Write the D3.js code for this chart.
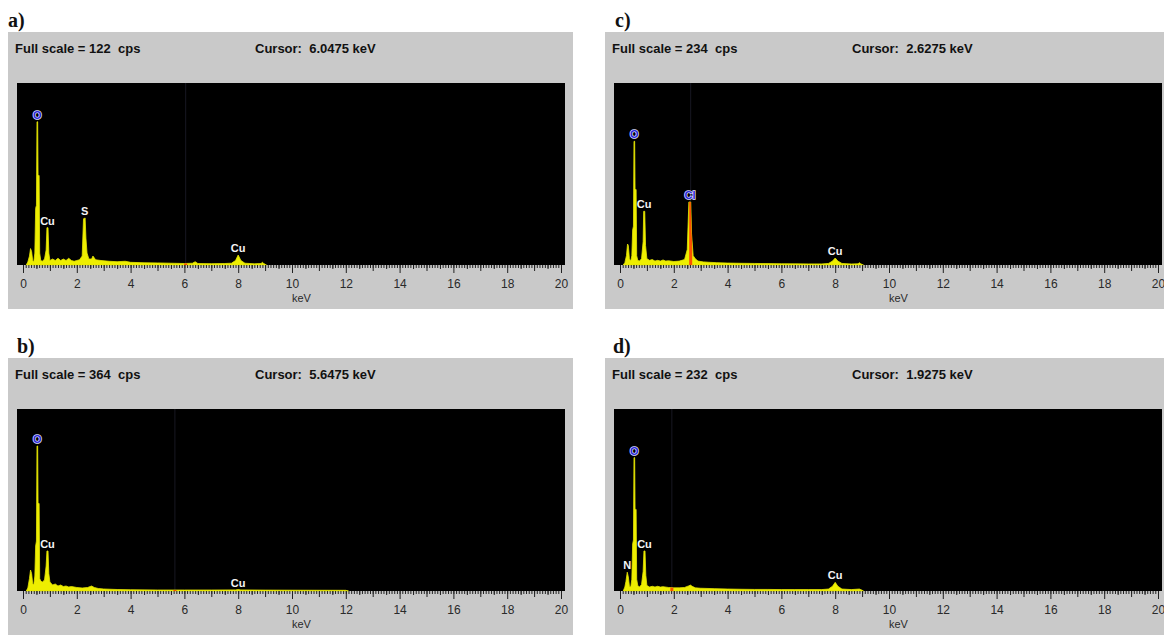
<!DOCTYPE html>
<html>
<head>
<meta charset="utf-8">
<script src="https://cdn.jsdelivr.net/npm/d3@7"></script>
<style>
  body { margin: 0; background: #fff; }
  text { white-space: pre; }
</style>
</head>
<body>
<script>
// panel letters, header values
const panelNames = ["a)", "b)", "c)", "d)"];
const fullScale = [122, 364, 234, 232];
const cursorKeV = [6.0475, 5.6475, 2.6275, 1.9275];
const tickLabels = [0, 2, 4, 6, 8, 10, 12, 14, 16, 18, 20];

// spectra: [keV, cps]
const spectrumA = [
  [0.12, 0], [0.18, 2], [0.24, 6], [0.28, 11], [0.32, 9], [0.36, 3], [0.4, 2], [0.44, 8],
  [0.47, 38], [0.5, 40], [0.52, 96], [0.545, 96], [0.56, 60], [0.6, 60], [0.62, 8], [0.66, 3],
  [0.72, 2.5], [0.8, 4], [0.86, 10], [0.89, 25], [0.93, 25], [0.96, 8], [1.0, 3], [1.1, 4],
  [1.2, 3], [1.3, 4.5], [1.4, 3], [1.5, 4], [1.6, 3], [1.7, 4.5], [1.8, 3], [1.9, 2.5],
  [2.0, 3], [2.1, 3.5], [2.2, 6], [2.25, 31], [2.31, 31.5], [2.34, 18], [2.38, 8], [2.45, 4],
  [2.55, 4], [2.6, 6], [2.7, 3.5], [2.9, 3], [3.2, 2.5], [3.5, 2.2], [3.8, 2.5], [4.0, 1.8],
  [4.5, 1.5], [5.0, 1.4], [5.5, 1.2], [6.0, 1], [6.3, 1.2], [6.4, 2.2], [6.5, 1], [7.0, 0.9],
  [7.5, 1], [7.75, 1.2], [7.9, 3], [8.0, 6.7], [8.1, 3], [8.25, 1.2], [8.6, 0.8], [8.85, 1],
  [8.9, 1.8], [8.95, 1], [9.0, 0.5], [9.05, 0]
];
const spectrumB = [
  [0.12, 0], [0.18, 6], [0.24, 25], [0.28, 42], [0.32, 35], [0.36, 15], [0.4, 12], [0.44, 30],
  [0.47, 90], [0.5, 100], [0.52, 290], [0.545, 290], [0.56, 175], [0.6, 175], [0.62, 25], [0.66, 20],
  [0.72, 18], [0.8, 22], [0.86, 50], [0.89, 80], [0.93, 80], [0.96, 35], [1.0, 18], [1.1, 12],
  [1.2, 14], [1.3, 10], [1.4, 12], [1.5, 9], [1.6, 10], [1.7, 8], [1.8, 9], [2.0, 7],
  [2.2, 6], [2.4, 7], [2.55, 10], [2.65, 7], [2.8, 5], [3.0, 4], [3.5, 3], [4.0, 2.5],
  [5.0, 2], [6.0, 2], [7.0, 2], [7.9, 2.2], [8.0, 3], [8.1, 2.2], [9.0, 1.8], [10.0, 1.6],
  [11.0, 1.5], [12.0, 1.4], [12.1, 0]
];
const spectrumC = [
  [0.12, 0], [0.18, 3], [0.24, 12], [0.28, 27], [0.31, 25], [0.35, 8], [0.4, 5], [0.44, 12],
  [0.47, 45], [0.5, 50], [0.52, 159], [0.545, 159], [0.56, 97], [0.6, 97], [0.62, 12], [0.66, 6],
  [0.72, 5], [0.8, 8], [0.86, 30], [0.88, 69], [0.92, 69], [0.95, 25], [1.0, 8], [1.1, 6],
  [1.2, 7], [1.3, 5], [1.4, 6], [1.5, 5], [1.6, 6.5], [1.7, 5], [1.8, 5.5], [2.0, 4.5],
  [2.2, 5], [2.4, 7], [2.5, 20], [2.56, 81], [2.63, 81], [2.66, 40], [2.72, 12], [2.8, 8],
  [2.9, 5], [3.1, 4], [3.3, 3.5], [3.6, 3], [4.0, 2.5], [4.5, 2.2], [5.0, 2], [5.5, 1.8],
  [6.0, 1.6], [6.5, 1.5], [7.0, 1.4], [7.5, 1.4], [7.75, 2], [7.9, 5], [8.0, 9], [8.1, 5],
  [8.25, 2], [8.6, 1.3], [8.85, 1.5], [8.9, 3], [8.95, 1.5], [9.0, 0.8], [9.05, 0]
];
const spectrumD = [
  [0.12, 0], [0.18, 5], [0.22, 12], [0.27, 24], [0.31, 18], [0.35, 6], [0.4, 5], [0.44, 15],
  [0.47, 60], [0.5, 65], [0.52, 170], [0.545, 170], [0.56, 104], [0.6, 104], [0.62, 15], [0.66, 7],
  [0.72, 5], [0.8, 8], [0.86, 25], [0.89, 51], [0.93, 51], [0.96, 20], [1.0, 7], [1.1, 5],
  [1.2, 6], [1.3, 5], [1.4, 6], [1.5, 5], [1.6, 5.5], [1.8, 4.5], [2.0, 4], [2.2, 4],
  [2.4, 4.5], [2.55, 6.5], [2.62, 7.5], [2.68, 6], [2.8, 4], [3.0, 3.5], [3.5, 3], [4.0, 2.5], [4.5, 2.2],
  [5.0, 2], [5.5, 2], [6.0, 1.8], [6.5, 1.8], [7.0, 1.8], [7.5, 1.8], [7.75, 2.5], [7.9, 6],
  [8.0, 11], [8.1, 6], [8.25, 2.5], [8.6, 1.8], [8.9, 2.5], [9.0, 1], [9.05, 0]
];

// peak labels: [element, keV, cps of peak top, highlighted]
const peaksA = [["O", 0.53, 96, true], ["Cu", 0.91, 25, false], ["S", 2.29, 31.5, false], ["Cu", 8.0, 6.7, false]];
const peaksB = [["O", 0.53, 290, true], ["Cu", 0.91, 80, false], ["Cu", 8.0, 3, false]];
const peaksC = [["O", 0.53, 159, true], ["Cu", 0.9, 69, false], ["Cl", 2.6, 81, true], ["Cu", 8.0, 9, false]];
const peaksD = [["N", 0.27, 24, false], ["O", 0.53, 170, true], ["Cu", 0.91, 51, false], ["Cu", 8.0, 11, false]];

const spectra = [spectrumA, spectrumB, spectrumC, spectrumD];
const peaks = [peaksA, peaksB, peaksC, peaksD];

// where each panel sits on the page
const layout = [
  { gx: 8, gy: 32, lx: 8 },
  { gx: 8, gy: 358, lx: 17 },
  { gx: 605, gy: 32, lx: 615 },
  { gx: 605, gy: 358, lx: 613 }
];

const uiFont = "'Liberation Sans', Arial, sans-serif";

const svg = d3.select("body")
  .append("svg")
  .attr("width", 1164)
  .attr("height", 635);

panelNames.forEach((name, i) => {
  const { gx, gy, lx } = layout[i];
  const g = svg.append("g");

  g.append("text")
    .attr("x", lx)
    .attr("y", gy - 5)
    .attr("font-family", "'Liberation Serif', 'Times New Roman', serif")
    .attr("font-weight", "bold")
    .attr("font-size", 20)
    .attr("fill", "#111")
    .text(name);

  g.append("rect")
    .attr("x", gx).attr("y", gy)
    .attr("width", 565).attr("height", 277)
    .attr("fill", "#c9c9c9");

  g.append("rect")
    .attr("x", gx + 9).attr("y", gy + 51)
    .attr("width", 548).attr("height", 182)
    .attr("fill", "#000");

  g.append("text")
    .attr("x", gx + 7).attr("y", gy + 21)
    .attr("font-family", uiFont).attr("font-weight", "bold").attr("font-size", 13)
    .attr("fill", "#111")
    .text("Full scale = " + fullScale[i] + "  cps");

  g.append("text")
    .attr("x", gx + 247).attr("y", gy + 21)
    .attr("font-family", uiFont).attr("font-weight", "bold").attr("font-size", 13)
    .attr("fill", "#111")
    .text("Cursor:  " + cursorKeV[i].toFixed(4) + " keV");

  const x = d3.scaleLinear().domain([0, 20]).range([gx + 15, gx + 553]);
  const y = d3.scaleLinear().domain([0, fullScale[i]]).range([gy + 233, gy + 51]);

  const area = d3.area()
    .x(d => x(d[0]))
    .y0(y(0))
    .y1(d => y(d[1]));

  const clipId = "spec-clip-" + i;
  g.append("clipPath").attr("id", clipId)
    .append("path").datum(spectra[i]).attr("d", area);

  // cursor line, barely visible on black
  g.append("line")
    .attr("x1", x(cursorKeV[i])).attr("x2", x(cursorKeV[i]))
    .attr("y1", y.range()[1]).attr("y2", y(0))
    .attr("stroke", "#181822").attr("stroke-width", 1);

  g.append("path")
    .datum(spectra[i])
    .attr("d", area)
    .attr("fill", "#eeee00")
    .attr("stroke", "#e4e400")
    .attr("stroke-width", 0.8);

  // cursor marker coloured inside the spectrum
  g.append("rect")
    .attr("x", x(cursorKeV[i]) - 1.5)
    .attr("y", y.range()[1])
    .attr("width", 3)
    .attr("height", y(0) - y.range()[1])
    .attr("fill", "#ff2a00")
    .attr("opacity", 0.8)
    .attr("clip-path", "url(#" + clipId + ")");

  // peak labels
  peaks[i].forEach(p => {
    const t = g.append("text")
      .attr("x", x(p[1]))
      .attr("y", y(p[2]) - 3)
      .attr("text-anchor", "middle")
      .attr("font-family", uiFont)
      .attr("font-weight", "bold")
      .attr("font-size", 11)
      .text(p[0]);
    if (p[3]) {
      t.attr("fill", "#2a2ad8")
        .attr("stroke", "#dcdcff")
        .attr("stroke-width", 1.6)
        .attr("paint-order", "stroke");
    } else {
      t.attr("fill", "#f4f4f4");
    }
  });

  // ruler ticks under the plot
  const axisY = y(0);
  const tickSets = [
    { values: d3.range(0, 201).map(k => k / 10), size: 3 },
    { values: d3.range(0, 20).map(k => k + 0.5), size: 4 },
    { values: d3.range(1, 20, 2), size: 6 }
  ];
  tickSets.forEach(ts => {
    const a = g.append("g")
      .attr("transform", `translate(0,${axisY})`)
      .call(d3.axisBottom(x).tickValues(ts.values).tickSize(ts.size).tickFormat(""));
    a.select(".domain").remove();
    a.selectAll("line").attr("stroke", "#222");
  });

  const major = g.append("g")
    .attr("transform", `translate(0,${axisY})`)
    .call(d3.axisBottom(x).tickValues(tickLabels).tickSize(8).tickPadding(6).tickFormat(d3.format("d")));
  major.select(".domain").remove();
  major.selectAll("line").attr("stroke", "#222");
  major.attr("font-family", uiFont).attr("font-size", 12);
  major.selectAll("text").attr("fill", "#2a2a2a");

  g.append("text")
    .attr("x", (x.range()[0] + x.range()[1]) / 2)
    .attr("y", gy + 270)
    .attr("font-family", uiFont)
    .attr("font-size", 11)
    .attr("fill", "#2a2a2a")
    .text("keV");
});
</script>
</body>
</html>
